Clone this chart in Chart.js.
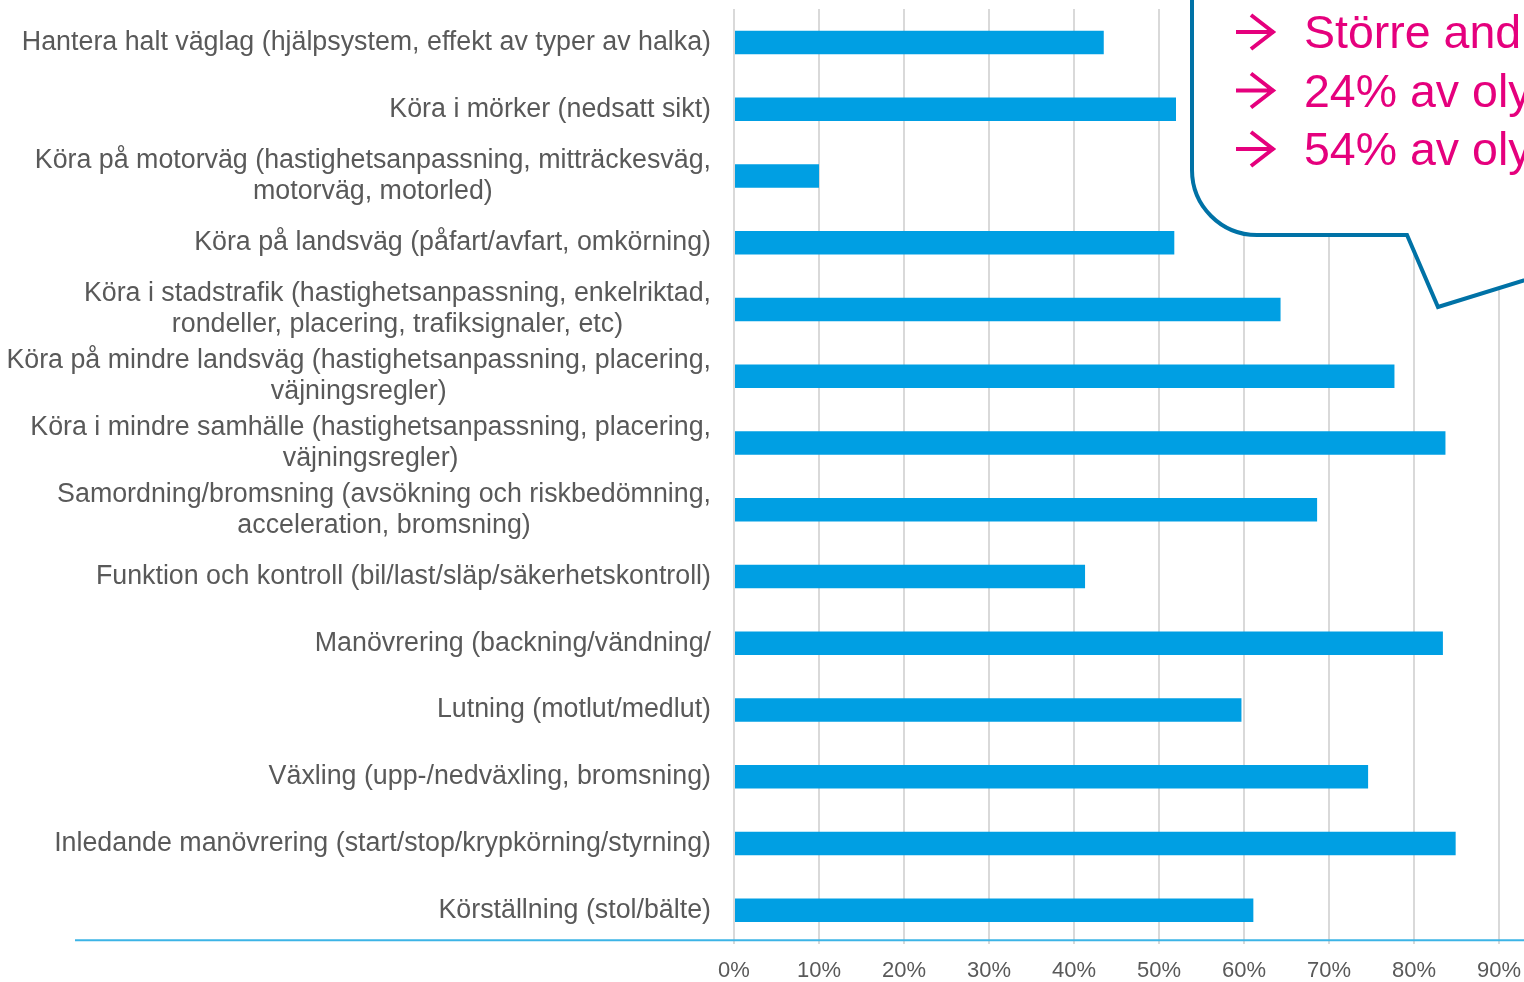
<!DOCTYPE html>
<html>
<head>
<meta charset="utf-8">
<script src="https://cdn.jsdelivr.net/npm/chart.js@4.4.1/dist/chart.umd.min.js"></script>
<style>
  html, body { margin: 0; padding: 0; background: #ffffff; overflow: hidden; }
  #wrap { position: relative; width: 1524px; height: 982px; }
  #chart { position: absolute; left: 0; top: 0; }
  #callout { position: absolute; left: 0; top: 0; pointer-events: none; }
</style>
</head>
<body>
<div id="wrap">
  <canvas id="chart" width="1524" height="982"></canvas>
  <svg id="callout" width="1524" height="982" viewBox="0 0 1524 982">
    <path d="M1192,-20 L1192,170 A65,65 0 0 0 1257,235 L1407,235 L1438,307 L1570,266 L1570,-20 Z"
          fill="#ffffff" stroke="#0072a6" stroke-width="4" stroke-linejoin="miter"/>
    <g stroke="#e5007d" stroke-width="4" fill="none" stroke-linecap="butt">
      <path d="M1236,32 L1274,32 M1251,15 L1273,32 L1251,49"/>
      <path d="M1236,90.5 L1274,90.5 M1251,73.5 L1273,90.5 L1251,107.5"/>
      <path d="M1236,149 L1274,149 M1251,132 L1273,149 L1251,166"/>
    </g>
    <g fill="#e5007d" font-family="'Liberation Sans', Arial, sans-serif" font-size="46.5">
      <text x="1304" y="48">Större and</text>
      <text x="1304" y="106.5">24% av oly</text>
      <text x="1304" y="165">54% av oly</text>
    </g>
  </svg>
</div>
<script>
const categories = [
  "Hantera halt väglag (hjälpsystem, effekt av typer av halka)",
  "Köra i mörker (nedsatt sikt)",
  ["Köra på motorväg (hastighetsanpassning, mitträckesväg,", "motorväg, motorled)"],
  "Köra på landsväg (påfart/avfart, omkörning)",
  ["Köra i stadstrafik (hastighetsanpassning, enkelriktad,", "rondeller, placering, trafiksignaler, etc)"],
  ["Köra på mindre landsväg (hastighetsanpassning, placering,", "väjningsregler)"],
  ["Köra i mindre samhälle (hastighetsanpassning, placering,", "väjningsregler)"],
  ["Samordning/bromsning (avsökning och riskbedömning,", "acceleration, bromsning)"],
  "Funktion och kontroll (bil/last/släp/säkerhetskontroll)",
  "Manövrering (backning/vändning/",
  "Lutning (motlut/medlut)",
  "Växling (upp-/nedväxling, bromsning)",
  "Inledande manövrering (start/stop/krypkörning/styrning)",
  "Körställning (stol/bälte)"
];
const values = [43.5, 52.0, 10.0, 51.8, 64.3, 77.7, 83.7, 68.6, 41.3, 83.4, 59.7, 74.6, 84.9, 61.1];
const xTicks = [0, 10, 20, 30, 40, 50, 60, 70, 80, 90];
const xMax = 92.94;

const FONT = "'Liberation Sans', Arial, sans-serif";
const TEXT_COLOR = "#595959";

const categoryLabelPlugin = {
  id: 'categoryLabels',
  afterDraw(chart) {
    const ctx = chart.ctx;
    const yScale = chart.scales.y;
    const xRight = chart.chartArea.left - 23;
    ctx.save();
    ctx.font = "26.8px " + FONT;
    ctx.fillStyle = TEXT_COLOR;
    ctx.textBaseline = 'middle';
    ctx.textAlign = 'center';
    categories.forEach((lab, i) => {
      const lines = Array.isArray(lab) ? lab : [lab];
      const yc = yScale.getPixelForTick(i);
      const maxW = Math.max(...lines.map(l => ctx.measureText(l).width));
      const cx = xRight - maxW / 2;
      const lh = 31;
      lines.forEach((l, j) => {
        ctx.fillText(l, cx, yc + (j - (lines.length - 1) / 2) * lh);
      });
    });
    ctx.restore();
  }
};

const baseLinePlugin = {
  id: 'baseLine',
  afterDraw(chart) {
    const ctx = chart.ctx;
    const y = chart.chartArea.bottom - 3.5;
    ctx.save();
    ctx.strokeStyle = "#3cb4e6";
    ctx.lineWidth = 2;
    ctx.beginPath();
    ctx.moveTo(75, y);
    ctx.lineTo(chart.width, y);
    ctx.stroke();
    ctx.restore();
  }
};

new Chart(document.getElementById('chart'), {
  type: 'bar',
  data: {
    labels: categories,
    datasets: [{
      data: values,
      backgroundColor: '#009fe3',
      borderWidth: 0,
      barPercentage: 0.352,
      categoryPercentage: 1.0
    }]
  },
  options: {
    indexAxis: 'y',
    responsive: false,
    animation: false,
    layout: { padding: { top: 9, right: 0, left: 0, bottom: 0 } },
    plugins: {
      legend: { display: false },
      tooltip: { enabled: false }
    },
    scales: {
      x: {
        min: 0,
        max: xMax,
        afterBuildTicks(scale) {
          scale.ticks = xTicks.map(v => ({ value: v }));
        },
        afterFit(scale) {
          scale.height = 38.3;
          scale.paddingLeft = 0;
          scale.paddingRight = 0;
        },
        grid: {
          color: '#d9d9d9',
          lineWidth: 2,
          drawTicks: false
        },
        border: { display: false },
        ticks: {
          padding: 14,
          color: TEXT_COLOR,
          font: { family: FONT, size: 22 },
          callback: (v) => v + '%'
        }
      },
      y: {
        afterFit(scale) {
          scale.width = 734;
          scale.paddingTop = 0;
          scale.paddingBottom = 0;
        },
        grid: { display: false },
        border: { display: false },
        ticks: { display: false }
      }
    }
  },
  plugins: [categoryLabelPlugin, baseLinePlugin]
});
</script>
</body>
</html>
